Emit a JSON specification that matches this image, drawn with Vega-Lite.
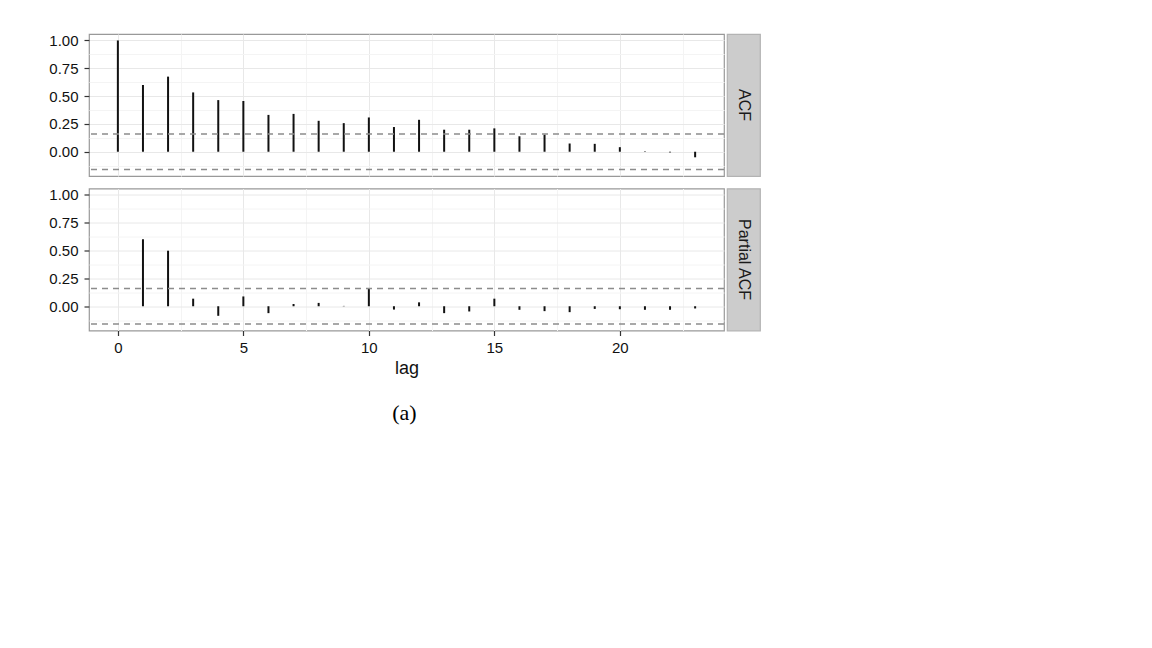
{
  "$schema": "https://vega.github.io/schema/vega-lite/v6.json",
  "background": "white",
  "padding": {"left": 48, "top": 32, "right": 5, "bottom": 5},
  "datasets": {
    "acf": [
      {"panel": "ACF", "lag": 0, "value": 1.0},
      {"panel": "ACF", "lag": 1, "value": 0.6},
      {"panel": "ACF", "lag": 2, "value": 0.675},
      {"panel": "ACF", "lag": 3, "value": 0.533},
      {"panel": "ACF", "lag": 4, "value": 0.464},
      {"panel": "ACF", "lag": 5, "value": 0.456},
      {"panel": "ACF", "lag": 6, "value": 0.331},
      {"panel": "ACF", "lag": 7, "value": 0.34},
      {"panel": "ACF", "lag": 8, "value": 0.278},
      {"panel": "ACF", "lag": 9, "value": 0.257},
      {"panel": "ACF", "lag": 10, "value": 0.308},
      {"panel": "ACF", "lag": 11, "value": 0.222},
      {"panel": "ACF", "lag": 12, "value": 0.287},
      {"panel": "ACF", "lag": 13, "value": 0.198},
      {"panel": "ACF", "lag": 14, "value": 0.198},
      {"panel": "ACF", "lag": 15, "value": 0.21},
      {"panel": "ACF", "lag": 16, "value": 0.139},
      {"panel": "ACF", "lag": 17, "value": 0.154},
      {"panel": "ACF", "lag": 18, "value": 0.074},
      {"panel": "ACF", "lag": 19, "value": 0.071},
      {"panel": "ACF", "lag": 20, "value": 0.041},
      {"panel": "ACF", "lag": 21, "value": 0.004},
      {"panel": "ACF", "lag": 22, "value": -0.006},
      {"panel": "ACF", "lag": 23, "value": -0.05},
      {"panel": "Partial ACF", "lag": 1, "value": 0.602},
      {"panel": "Partial ACF", "lag": 2, "value": 0.499},
      {"panel": "Partial ACF", "lag": 3, "value": 0.068},
      {"panel": "Partial ACF", "lag": 4, "value": -0.086},
      {"panel": "Partial ACF", "lag": 5, "value": 0.088},
      {"panel": "Partial ACF", "lag": 6, "value": -0.062},
      {"panel": "Partial ACF", "lag": 7, "value": 0.02},
      {"panel": "Partial ACF", "lag": 8, "value": 0.03},
      {"panel": "Partial ACF", "lag": 9, "value": 0.003},
      {"panel": "Partial ACF", "lag": 10, "value": 0.16},
      {"panel": "Partial ACF", "lag": 11, "value": -0.03},
      {"panel": "Partial ACF", "lag": 12, "value": 0.035},
      {"panel": "Partial ACF", "lag": 13, "value": -0.062},
      {"panel": "Partial ACF", "lag": 14, "value": -0.047},
      {"panel": "Partial ACF", "lag": 15, "value": 0.068},
      {"panel": "Partial ACF", "lag": 16, "value": -0.032},
      {"panel": "Partial ACF", "lag": 17, "value": -0.044},
      {"panel": "Partial ACF", "lag": 18, "value": -0.053},
      {"panel": "Partial ACF", "lag": 19, "value": -0.024},
      {"panel": "Partial ACF", "lag": 20, "value": -0.027},
      {"panel": "Partial ACF", "lag": 21, "value": -0.032},
      {"panel": "Partial ACF", "lag": 22, "value": -0.032},
      {"panel": "Partial ACF", "lag": 23, "value": -0.02}
    ],
    "ci": [{"bound": 0.16}, {"bound": -0.16}],
    "strips": [{"label": "ACF"}, {"label": "Partial ACF"}]
  },
  "title": {
    "text": "(a)",
    "orient": "bottom",
    "anchor": "middle",
    "font": "Liberation Serif",
    "fontSize": 22,
    "fontWeight": "normal",
    "color": "black",
    "offset": 25
  },
  "spacing": 9.5,
  "vconcat": [
    {
      "spacing": 0,
      "hconcat": [
        {
          "width": 635,
          "height": 142,
          "view": {"stroke": "#999999", "strokeWidth": 1.2},
          "layer": [
            {
              "data": {"name": "acf"},
              "transform": [{"filter": "datum.panel === 'ACF'"}],
              "mark": {"type": "rule", "color": "#111111", "strokeWidth": 2},
              "encoding": {
                "x": {"field": "lag", "type": "quantitative", "scale": {"domain": [-1.15, 24.15], "nice": false, "zero": false},
                  "axis": {"values": [0, 2.5, 5, 7.5, 10, 12.5, 15, 17.5, 20, 22.5], "tickCount": 30, "labels": false, "ticks": false, "title": null, "minExtent": 0, "maxExtent": 0,
                    "gridColor": {"condition": {"test": "datum.value % 5 === 0", "value": "#e8e8e8"}, "value": "#f4f4f4"}}},
                "y": {"field": "value", "type": "quantitative", "scale": {"domain": [-0.218, 1.058], "nice": false, "zero": false},
                  "axis": {"values": [-0.125, 0, 0.125, 0.25, 0.375, 0.5, 0.625, 0.75, 0.875, 1], "tickCount": 30, "labelOverlap": false, "format": ".2f", "title": null,
                    "labelExpr": "(datum.value * 8) % 2 === 0 ? datum.label : ''",
                    "gridColor": {"condition": {"test": "(datum.value * 8) % 2 === 0", "value": "#e8e8e8"}, "value": "#f4f4f4"},
                    "tickOpacity": {"condition": {"test": "(datum.value * 8) % 2 === 0", "value": 1}, "value": 0}}},
                "y2": {"datum": 0}
              }
            },
            {
              "data": {"name": "ci"},
              "mark": {"type": "rule", "color": "#8c8c8c", "strokeDash": [6, 5], "strokeWidth": 1.5},
              "encoding": {
                "y": {"field": "bound", "type": "quantitative", "title": null}
              }
            },
            {
              "mark": {"type": "rule", "color": "#808080", "strokeWidth": 1.5},
              "encoding": {"y": {"datum": 0, "type": "quantitative", "title": null}}
            }
          ]
        },
        {
          "width": 33,
          "height": 142,
          "view": {"fill": "#cccccc", "stroke": "#b3b3b3", "strokeWidth": 1.2},
          "data": {"name": "strips"},
          "transform": [{"filter": "datum.label === 'ACF'"}],
          "mark": {"type": "text", "angle": 90, "font": "Liberation Sans", "fontSize": 16, "color": "#1a1a1a", "align": "center", "baseline": "middle"},
          "encoding": {"text": {"field": "label"}}
        }
      ]
    },
    {
      "spacing": 0,
      "hconcat": [
        {
          "width": 635,
          "height": 142,
          "view": {"stroke": "#999999", "strokeWidth": 1.2},
          "layer": [
            {
              "data": {"name": "acf"},
              "transform": [{"filter": "datum.panel === 'Partial ACF'"}],
              "mark": {"type": "rule", "color": "#111111", "strokeWidth": 2},
              "encoding": {
                "x": {"field": "lag", "type": "quantitative", "scale": {"domain": [-1.15, 24.15], "nice": false, "zero": false},
                  "axis": {"values": [0, 2.5, 5, 7.5, 10, 12.5, 15, 17.5, 20, 22.5], "tickCount": 30, "labelOverlap": false, "title": "lag",
                    "labelExpr": "datum.value % 5 === 0 ? datum.label : ''",
                    "tickOpacity": {"condition": {"test": "datum.value % 5 === 0", "value": 1}, "value": 0},
                    "gridColor": {"condition": {"test": "datum.value % 5 === 0", "value": "#e8e8e8"}, "value": "#f4f4f4"}}},
                "y": {"field": "value", "type": "quantitative", "scale": {"domain": [-0.218, 1.058], "nice": false, "zero": false},
                  "axis": {"values": [-0.125, 0, 0.125, 0.25, 0.375, 0.5, 0.625, 0.75, 0.875, 1], "tickCount": 30, "labelOverlap": false, "format": ".2f", "title": null,
                    "labelExpr": "(datum.value * 8) % 2 === 0 ? datum.label : ''",
                    "gridColor": {"condition": {"test": "(datum.value * 8) % 2 === 0", "value": "#e8e8e8"}, "value": "#f4f4f4"},
                    "tickOpacity": {"condition": {"test": "(datum.value * 8) % 2 === 0", "value": 1}, "value": 0}}},
                "y2": {"datum": 0}
              }
            },
            {
              "data": {"name": "ci"},
              "mark": {"type": "rule", "color": "#8c8c8c", "strokeDash": [6, 5], "strokeWidth": 1.5},
              "encoding": {
                "y": {"field": "bound", "type": "quantitative", "title": null}
              }
            },
            {
              "mark": {"type": "rule", "color": "#808080", "strokeWidth": 1.5},
              "encoding": {"y": {"datum": 0, "type": "quantitative", "title": null}}
            }
          ]
        },
        {
          "width": 33,
          "height": 142,
          "view": {"fill": "#cccccc", "stroke": "#b3b3b3", "strokeWidth": 1.2},
          "data": {"name": "strips"},
          "transform": [{"filter": "datum.label === 'Partial ACF'"}],
          "mark": {"type": "text", "angle": 90, "font": "Liberation Sans", "fontSize": 16, "color": "#1a1a1a", "align": "center", "baseline": "middle"},
          "encoding": {"text": {"field": "label"}}
        }
      ]
    }
  ],
  "config": {
    "axis": {
      "domain": false,
      "labelFont": "Liberation Sans",
      "labelFontSize": 15,
      "labelColor": "#111111",
      "tickColor": "#333333",
      "tickSize": 5,
      "tickWidth": 1.2,
      "labelPadding": 5,
      "gridWidth": 1,
      "titleFont": "Liberation Sans",
      "titleFontSize": 18,
      "titleFontWeight": "normal",
      "titleColor": "#111111",
      "titlePadding": 4
    },
    "axisY": {"labelPadding": 6}
  }
}
